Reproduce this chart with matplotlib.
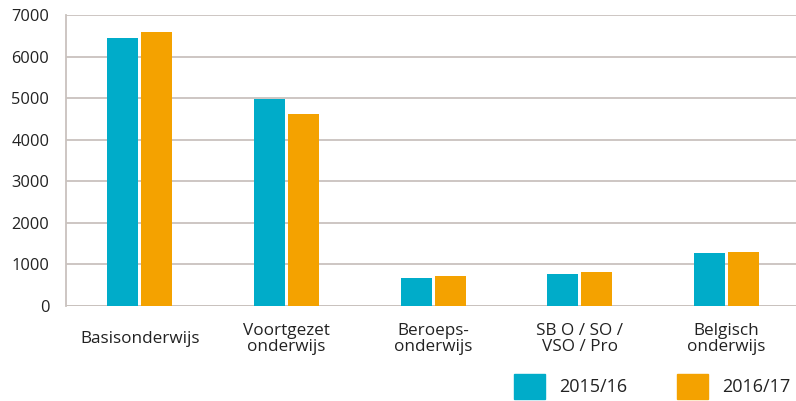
import matplotlib
matplotlib.use("Agg")
import matplotlib.pyplot as plt
import numpy as np
from matplotlib.patches import Patch

categories = ["Basisonderwijs", "Voortgezet\nonderwijs", "Beroeps-\nonderwijs",
              "SB O / SO /\nVSO / Pro", "Belgisch\nonderwijs"]
series_names = ["2015/16", "2016/17"]
values_2015 = [6450, 4970, 670, 760, 1270]
values_2016 = [6600, 4630, 715, 810, 1290]
yticks = [0, 1000, 2000, 3000, 4000, 5000, 6000, 7000]

teal = "#00ACC9"
orange = "#F4A200"
grid_c = "#C9C2BE"
text_c = "#222222"

plt.rcParams["font.family"] = ["Open Sans", "DejaVu Sans"]

fig = plt.figure(figsize=(7.96, 4.01), dpi=100)
ax = fig.add_axes([66/796, 95/401, (796-66)/796, (306-15)/401])

x = np.arange(len(categories))
w = 0.211
off = 0.116
ax.bar(x - off, values_2015, width=w, color=teal, zorder=3)
ax.bar(x + off, values_2016, width=w, color=orange, zorder=3)

ax.set_xlim(-0.502, 4.474)
ax.set_ylim(0, 7000)
ax.set_yticks(yticks)
ax.set_yticklabels([str(v) for v in yticks])
ax.yaxis.grid(True, color=grid_c, linewidth=1.3, zorder=0)
ax.set_axisbelow(True)
for s in ["top", "right", "bottom"]:
    ax.spines[s].set_visible(False)
ax.spines["left"].set_color(grid_c)
ax.spines["left"].set_linewidth(1.3)
ax.axhline(0, color=grid_c, linewidth=1.3, zorder=2)

ax.set_xticks(x)
ax.set_xticklabels(categories, linespacing=1.0)
ax.tick_params(axis="both", length=0, colors=text_c, labelsize=12.3)
ax.tick_params(axis="y", pad=12, labelsize=11.8)
ax.tick_params(axis="x", pad=24)
for lbl in ax.get_xticklabels():
    lbl.set_verticalalignment("center")

handles = [Patch(color=teal), Patch(color=orange)]
fig.legend(handles, series_names, loc="upper left",
           bbox_to_anchor=(514/796, 1 - 374/401), ncol=2, frameon=False,
           fontsize=13, handlelength=1.72, handleheight=1.72,
           handletextpad=0.78, columnspacing=2.75, borderpad=0, borderaxespad=0,
           labelcolor=text_c)

fig.savefig("out.png", dpi=100)
